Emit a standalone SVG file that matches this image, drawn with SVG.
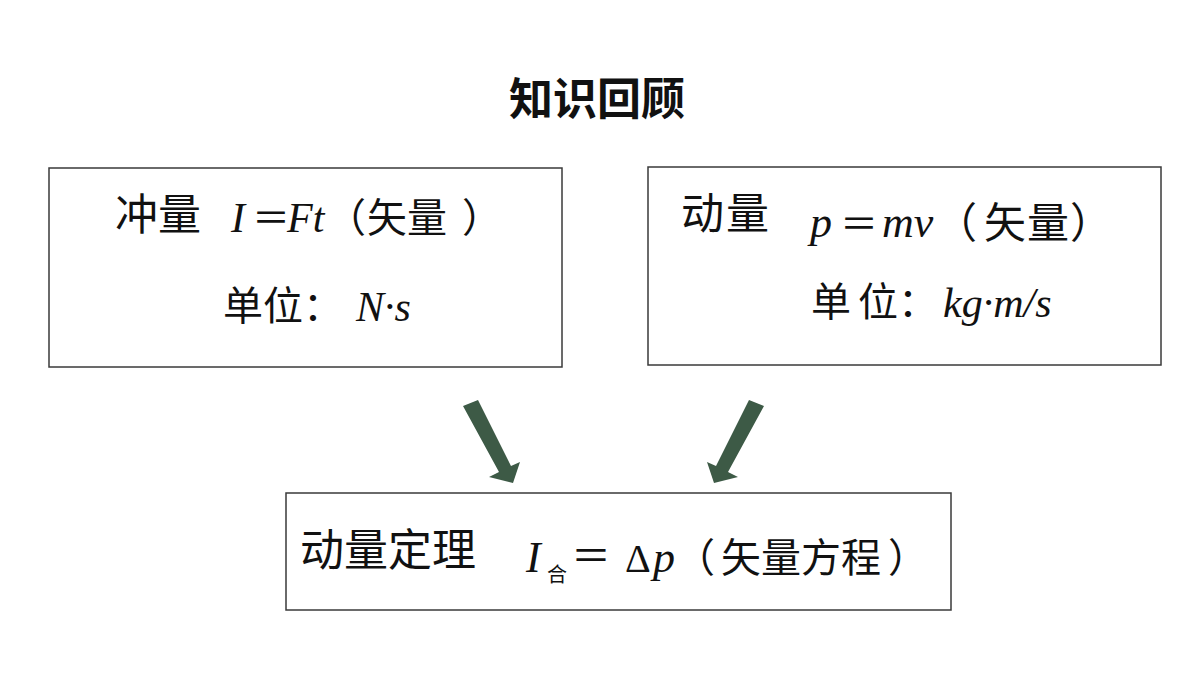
<svg xmlns="http://www.w3.org/2000/svg" width="1200" height="675" viewBox="0 0 1200 675">
<style>
.box{fill:#fff;stroke:#3a3a3a;stroke-width:1.5}
.cjk{font-family:"Noto Sans CJK SC","Noto Sans CJK JP",sans-serif;fill:#111}
.it{font-family:"Liberation Serif","DejaVu Serif",serif;font-style:italic;fill:#111}
.rm{font-family:"Liberation Serif","DejaVu Serif",serif;fill:#111}
.arrow{fill:#3d5a46}
</style>
<rect width="1200" height="675" fill="#fff"/>
<text id="title" x="597" y="115" text-anchor="middle" font-family="Noto Sans CJK SC, sans-serif" font-weight="bold" font-size="44" fill="#111">知识回顾</text>

<g id="connectors">
<polygon class="arrow" points="463,406 478,400 511,466 520,462 513,483 489,477 499,472"/>
<polygon class="arrow" points="764,406 749,400 716,466 707,462 714,483 738,477 728,472"/>
</g>

<g id="impulse">
<rect class="box" x="49" y="168" width="513" height="199"/>
<text class="cjk" font-size="43" y="230"><tspan x="115">冲</tspan><tspan x="158">量</tspan></text>
<text class="it" font-size="42" x="231" y="232">I</text>
<text class="cjk" font-size="38" x="252" y="231">＝</text>
<text class="it" font-size="42" x="287" y="232">Ft</text>
<text class="cjk" font-size="40" y="232"><tspan x="326">（</tspan><tspan x="367">矢</tspan><tspan x="407">量</tspan><tspan x="462">）</tspan></text>
<text class="cjk" font-size="40" y="320"><tspan x="223">单</tspan><tspan x="263">位</tspan><tspan x="303">：</tspan></text>
<text class="it" font-size="42" x="356" y="321">N·s</text>
</g>

<g id="momentum">
<rect class="box" x="648" y="167" width="513" height="198"/>
<text class="cjk" font-size="43" y="229"><tspan x="681">动</tspan><tspan x="726">量</tspan></text>
<text class="it" font-size="44" x="810" y="237">p</text>
<text class="cjk" font-size="38" x="840" y="237">＝</text>
<text class="it" font-size="44" x="882" y="237">mv</text>
<text class="cjk" font-size="42" y="238"><tspan x="935">（</tspan><tspan x="984">矢</tspan><tspan x="1027">量</tspan><tspan x="1070">）</tspan></text>
<text class="cjk" font-size="40" y="316"><tspan x="811">单</tspan><tspan x="858">位</tspan><tspan x="898">：</tspan></text>
<text class="it" font-size="42" x="943" y="317">kg·m/s</text>
</g>

<g id="theorem">
<rect class="box" x="286" y="493" width="665" height="117"/>
<text class="cjk" font-size="44" x="300" y="566">动量定理</text>
<text class="it" font-size="44" x="526" y="572">I</text>
<text class="cjk" font-size="20" x="547" y="582">合</text>
<text class="cjk" font-size="40" x="571" y="570">＝</text>
<text class="rm" font-size="40" x="625" y="572">Δ</text>
<text class="it" font-size="44" x="653" y="572">p</text>
<text class="cjk" font-size="40" y="572"><tspan x="675">（</tspan><tspan x="721">矢</tspan><tspan x="761">量</tspan><tspan x="801">方</tspan><tspan x="841">程</tspan><tspan x="888">）</tspan></text>
</g>
</svg>
